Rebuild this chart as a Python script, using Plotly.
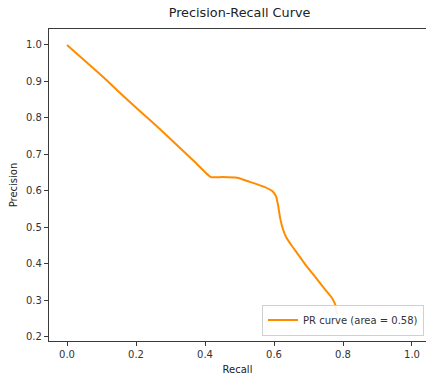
import plotly.graph_objects as go

recall = [0.0, 0.05, 0.096, 0.14, 0.183, 0.25, 0.313, 0.37, 0.417, 0.45, 0.493, 0.53, 0.57, 0.595, 0.606, 0.612, 0.618, 0.626, 0.635, 0.65, 0.667, 0.696, 0.715, 0.733, 0.75, 0.768, 0.777, 0.783]
precision = [1.0, 0.958, 0.92, 0.881, 0.843, 0.786, 0.731, 0.68, 0.638, 0.638, 0.636, 0.625, 0.612, 0.6, 0.585, 0.56, 0.525, 0.495, 0.474, 0.452, 0.43, 0.392, 0.37, 0.348, 0.328, 0.307, 0.29, 0.262]

x_ticks = [0.0, 0.2, 0.4, 0.6, 0.8, 1.0]
y_ticks = [0.2, 0.3, 0.4, 0.5, 0.6, 0.7, 0.8, 0.9, 1.0]
auc_label = "PR curve (area = 0.58)"

fig = go.Figure()
fig.add_trace(go.Scatter(x=recall, y=precision, mode="lines",
                         line=dict(color="#FF8C00", width=2, shape="spline", smoothing=0.4),
                         name=auc_label, showlegend=True))

axis_common = dict(showgrid=False, zeroline=False, showline=True, linecolor="#3a3a3a",
                   linewidth=1.2, ticks="outside", ticklen=4, tickcolor="#3a3a3a",
                   tickfont=dict(size=10, color="#333333"))

fig.update_layout(
    width=426, height=378,
    margin=dict(l=49, r=0, t=29, b=37),
    paper_bgcolor="white", plot_bgcolor="white",
    font=dict(family="DejaVu Sans", color="#222222"),
    title=dict(text="Precision-Recall Curve", x=(239.5) / 426, xanchor="center",
               y=1 - 13 / 378, yanchor="middle", font=dict(size=12.8, color="#222222")),
    xaxis=dict(range=[-0.0522, 1.0406], tickvals=x_ticks, ticktext=[f"{v:.1f}" for v in x_ticks],
               mirror=True, title=dict(text="Recall", font=dict(size=10), standoff=6), **axis_common),
    yaxis=dict(range=[0.189, 1.0438], tickvals=y_ticks, ticktext=[f"{v:.1f}" for v in y_ticks],
               mirror=False, title=dict(text="Precision", font=dict(size=10), standoff=6), **axis_common),
    legend=dict(x=0.9947, y=(341 - 320) / 312, xanchor="right", yanchor="middle",
                bgcolor="rgba(255,255,255,0.9)", bordercolor="#d0d0d0", borderwidth=1,
                font=dict(size=10, color="#333333"), itemwidth=30),
)

fig.write_html("out.html")
